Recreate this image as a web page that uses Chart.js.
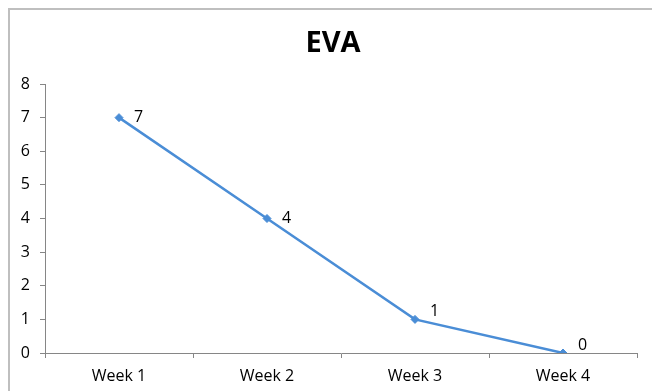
<!DOCTYPE html>
<html lang="en">
<head>
    <meta charset="UTF-8">
    <title>EVA</title>
    <style>
        html, body { margin: 0; padding: 0; background: #fff; }
        #wrap { width: 652px; height: 391px; }
    </style>
</head>
<body>
    <div id="wrap">
        <canvas id="myChart" width="652" height="391"></canvas>
    </div>

    <script src="https://cdn.jsdelivr.net/npm/chart.js"></script>
    <script>
        // chart data
        const chartTitle = 'EVA';
        const weeks = ['Week 1', 'Week 2', 'Week 3', 'Week 4'];
        const evaValues = [7, 4, 1, 0];
        const yMin = 0;
        const yMax = 8;
        const yStep = 1;

        const lineBlue = '#4A8DD6';
        const axisGrey = '#868686';
        const fontName = "'Open Sans', 'Liberation Sans', sans-serif";

        // white background, the grey frame that runs off the right/bottom edge, and the title
        const frame = {
            id: 'frame',
            beforeDraw(chart) {
                const c = chart.ctx;
                c.save();
                c.fillStyle = '#fff';
                c.fillRect(0, 0, chart.width, chart.height);
                c.strokeStyle = '#BFBFBF';
                c.lineWidth = 2;
                c.beginPath();
                c.moveTo(9, chart.height);
                c.lineTo(9, 9);
                c.lineTo(chart.width, 9);
                c.stroke();

                // title is centred on the frame, not on the plot
                c.fillStyle = '#000';
                c.font = 'bold 29px ' + fontName;
                c.textAlign = 'center';
                c.textBaseline = 'middle';
                c.fillText(chartTitle, 333, 44);
                c.restore();
            }
        };

        // value labels to the right of each point, nudged up when the line is in the way
        const valueLabels = {
            id: 'valueLabels',
            afterDatasetsDraw(chart) {
                const c = chart.ctx;
                const pts = chart.getDatasetMeta(0).data;
                c.save();
                c.font = '16px ' + fontName;
                c.fillStyle = '#000';
                c.textAlign = 'left';
                c.textBaseline = 'middle';
                pts.forEach((p, i) => {
                    let dy = 0;
                    let slope = 0;
                    if (i < pts.length - 1) {
                        slope = (pts[i + 1].y - p.y) / (pts[i + 1].x - p.x);
                    }
                    if (slope * 20 < 10) dy = -8;
                    c.fillText(String(evaValues[i]), p.x + 15, p.y + dy);
                });
                c.restore();
            }
        };

        const ctx = document.getElementById('myChart');

        new Chart(ctx, {
            type: 'line',
            data: {
                labels: weeks,
                datasets: [{
                    label: chartTitle,
                    data: evaValues,
                    borderColor: lineBlue,
                    backgroundColor: lineBlue,
                    borderWidth: 2.5,
                    pointStyle: 'rectRot',
                    pointRadius: 4,
                    pointBorderWidth: 1,
                    tension: 0,
                    fill: false
                }]
            },
            options: {
                responsive: false,
                animation: false,
                devicePixelRatio: 1,
                layout: { padding: { left: 0, right: 15, top: 84, bottom: 0 } },
                plugins: {
                    legend: { display: false },
                    tooltip: { enabled: false },
                    title: { display: false }
                },
                scales: {
                    x: {
                        offset: true,
                        grid: {
                            offset: true,
                            drawOnChartArea: false,
                            drawTicks: true,
                            tickLength: 5,
                            color: axisGrey
                        },
                        border: { display: true, color: axisGrey, width: 1 },
                        ticks: {
                            color: '#000',
                            padding: 9,
                            font: { family: fontName, size: 16 },
                            maxRotation: 0
                        },
                        afterFit(scale) { scale.height = 38; }
                    },
                    y: {
                        min: yMin,
                        max: yMax,
                        grid: {
                            drawOnChartArea: false,
                            drawTicks: true,
                            tickLength: 5,
                            color: axisGrey
                        },
                        border: { display: true, color: axisGrey, width: 1 },
                        ticks: {
                            stepSize: yStep,
                            color: '#000',
                            padding: 10,
                            font: { family: fontName, size: 16 }
                        },
                        afterFit(scale) { scale.width = 45; }
                    }
                }
            },
            plugins: [frame, valueLabels]
        });
    </script>
</body>
</html>
